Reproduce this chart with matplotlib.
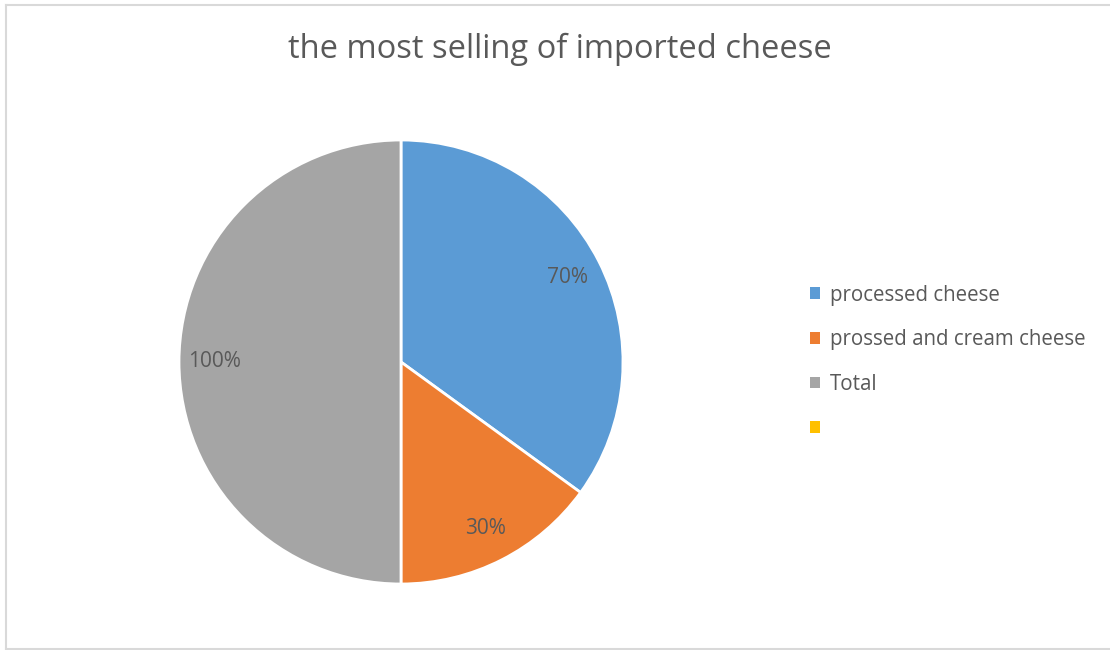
import numpy as np
import matplotlib.pyplot as plt
from matplotlib.patches import Patch
from matplotlib.lines import Line2D

# chart data
labels = ["processed cheese", "prossed and cream cheese", "Total", " "]
values = [70, 30, 100]
pct_text = ["70%", "30%", "100%"]
colors = ["#5B9BD5", "#ED7D31", "#A5A5A5", "#FFC000"]

plt.rcParams['font.family'] = ['Open Sans', 'DejaVu Sans']
text_col = "#595959"

fig = plt.figure(figsize=(11.1, 6.5), dpi=100)

# light frame round the chart area (left, top, bottom; right runs off the picture)
W, H = 1110, 650
frame = [((5.5, 5.5), (649, 4.5)), ((5.5, 1200), (4.5, 4.5)), ((5.5, 1200), (648.5, 648.5))]
for xs, ys in frame:
    fig.lines.append(Line2D([x / W for x in xs], [1 - y / H for y in ys],
                            transform=fig.transFigure, color="#D9D9D9", linewidth=1.5))

fig.text(560 / W, 1 - 49 / H, "the most selling of imported cheese",
         ha="center", va="center", fontsize=23.5, color=text_col)

# pie axes: centre (401, 362), radius 222 px
ax = fig.add_axes([(401 - 222) / W, (H - 584) / H, 444 / W, 444 / H])
wedges, _ = ax.pie(values, colors=colors[:3], startangle=90, counterclock=False,
                   radius=1, wedgeprops=dict(edgecolor="white", linewidth=2))
for w, t in zip(wedges, pct_text):
    ang = np.deg2rad((w.theta1 + w.theta2) / 2)
    ax.text(0.84 * np.cos(ang), 0.84 * np.sin(ang), t, ha="center", va="center",
            fontsize=15, color=text_col)
ax.set_xlim(-1, 1)
ax.set_ylim(-1, 1)
ax.set_aspect("equal")
ax.axis("off")

handles = [Patch(facecolor=c, edgecolor="none") for c in colors]
fig.legend(handles, labels, loc="center left", bbox_to_anchor=(810 / W, 1 - 362 / H),
           frameon=False, fontsize=14.8, handlelength=0.5, handleheight=0.5,
           handletextpad=0.45, labelspacing=1.15, borderpad=0, borderaxespad=0,
           labelcolor=text_col)

fig.savefig("out.png", dpi=100)
